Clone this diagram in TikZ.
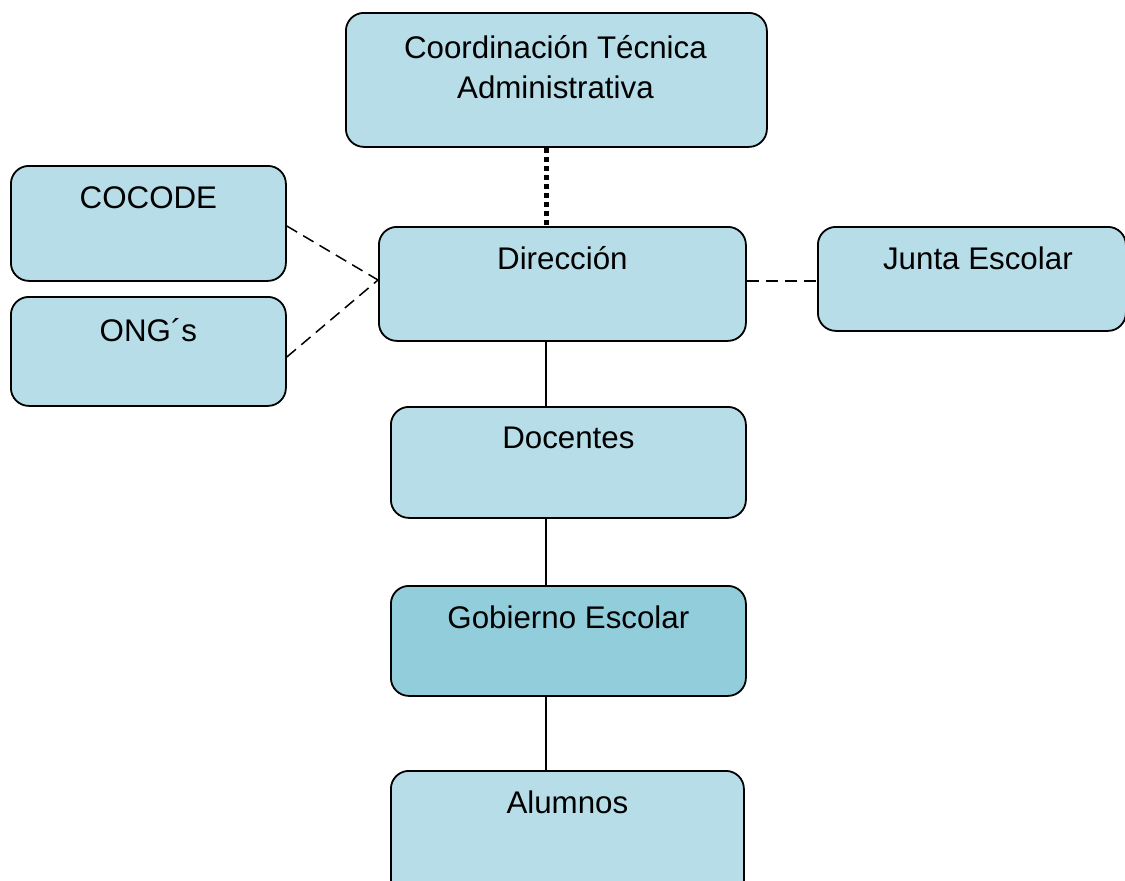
\documentclass[tikz,border=0pt]{standalone}
\usepackage{fontspec}
\setmainfont{Liberation Sans}
\usetikzlibrary{calc}
\definecolor{boxblue}{HTML}{B7DDE8}
\definecolor{boxdark}{HTML}{92CDDC}
\begin{document}
\begin{tikzpicture}[x=1pt,y=-1pt,
  orgbox/.style={draw=black, line width=1.8pt, fill=boxblue, rounded corners=18pt, anchor=north west, inner sep=0pt},
  lbl/.style={font=\fontsize{31.3}{40}\selectfont, align=center, inner sep=0pt},
  dotline/.style={line width=5pt, dash pattern=on 5pt off 4pt},
  dashline/.style={line width=1.5pt, dash pattern=on 12pt off 7pt},
  solidline/.style={line width=1.5pt}]
\clip (0,0) rectangle (1125,881);
\fill[white] (0,0) rectangle (1125,881);
% boxes
\node[orgbox, minimum width=421pt, minimum height=134pt] (coord) at (345,12) {};
\node[orgbox, minimum width=275pt, minimum height=115pt] (cocode) at (10,165) {};
\node[orgbox, minimum width=275pt, minimum height=109pt] (ong) at (10,296) {};
\node[orgbox, minimum width=367pt, minimum height=114pt] (dir) at (378,226) {};
\node[orgbox, minimum width=308pt, minimum height=104pt] (junta) at (817,226) {};
\node[orgbox, minimum width=355pt, minimum height=111pt] (doc) at (390,406) {};
\node[orgbox, fill=boxdark, minimum width=355pt, minimum height=110pt] (gob) at (390,585) {};
\node[orgbox, minimum width=353pt, minimum height=130pt] (alu) at (390,770) {};
% labels
\node[lbl] (coordT) at ($(coord.north)+(-1,55)$) {Coordinación Técnica\\Administrativa};
\node[lbl] (cocodeT) at ($(cocode.north)+(0,33)$) {COCODE};
\node[lbl] (ongT) at ($(ong.north)+(0,34)$) {ONG´s};
\node[lbl] (dirT) at ($(dir.north)+(0,32)$) {Dirección};
\node[lbl] (juntaT) at ($(junta.north)+(6,32)$) {Junta Escolar};
\node[lbl] (docT) at ($(doc.north)+(0,32)$) {Docentes};
\node[lbl] (gobT) at ($(gob.north)+(0,32)$) {Gobierno Escolar};
\node[lbl] (aluT) at ($(alu.north)+(0,32)$) {Alumnos};
% connectors
\coordinate (dirW) at ($(dir.north west)+(0,54)$);
\draw[dotline] ($(coord.south west)+(201,0)$) -- ($(dir.north west)+(168,0)$);
\draw[dashline] ($(cocode.north east)+(0,61)$) -- (dirW);
\draw[dashline] ($(ong.north east)+(0,61)$) -- (dirW);
\draw[dashline] ($(dir.north east)+(0,55)$) -- ($(junta.north west)+(0,55)$);
\draw[solidline] ($(dir.south west)+(168,0)$) -- ($(doc.north west)+(156,0)$);
\draw[solidline] ($(doc.south west)+(156,0)$) -- ($(gob.north west)+(156,0)$);
\draw[solidline] ($(gob.south west)+(156,0)$) -- ($(alu.north west)+(156,0)$);
\end{tikzpicture}
\end{document}
